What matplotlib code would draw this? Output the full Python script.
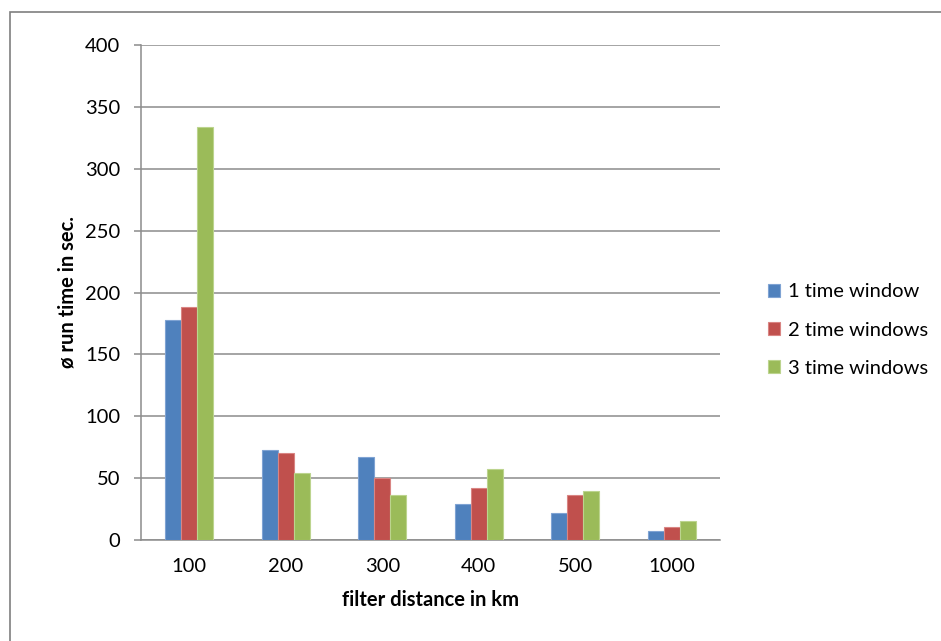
import numpy as np
import matplotlib.pyplot as plt
from matplotlib.patches import Rectangle

plt.rcParams['font.family'] = ['Lato', 'DejaVu Sans']

categories = ['100', '200', '300', '400', '500', '1000']
one_window = [178, 72.7, 67.3, 29.3, 22, 7.5]
two_windows = [188.2, 70.3, 50.3, 42.2, 36, 10.5]
three_windows = [333.5, 54.4, 36.3, 57.3, 39.8, 15.6]
series_names = ['1 time window', '2 time windows', '3 time windows']
colors = ['#4F81BD', '#C0504D', '#9BBB59']
edges = ['#7FA3D3', '#D98583', '#BCD48E']


def main():
    fig = plt.figure(figsize=(9.41, 6.41), dpi=100)
    ax = fig.add_axes([141 / 941, 1 - 540 / 641, (720 - 141) / 941, (540 - 45) / 641])

    ## outer chart border (runs off the right and bottom of the picture)
    fig.patches.append(Rectangle((10 / 941, -0.1), 1.2, 1 - 12 / 641 + 0.1,
                                 transform=fig.transFigure, fill=False,
                                 edgecolor='#7f7f7f', linewidth=1.2))

    x = np.arange(len(categories))
    w = 1 / 6
    for k, vals in enumerate([one_window, two_windows, three_windows]):
        ax.bar(x + (k - 1) * w, vals, w, color=colors[k], edgecolor=edges[k],
               linewidth=0.8, label=series_names[k], zorder=3)

    ax.set_xlim(-0.5, len(categories) - 0.5)
    ax.set_ylim(0, 400)
    ax.set_yticks(np.arange(0, 401, 50))
    ax.set_xticks(x)
    ax.set_xticklabels(categories)
    ax.yaxis.grid(True, color='#8c8c8c', linewidth=1.1, zorder=0)
    ax.set_axisbelow(True)

    for side in ['top', 'right']:
        ax.spines[side].set_visible(False)
    for side in ['left', 'bottom']:
        ax.spines[side].set_color('#8c8c8c')
        ax.spines[side].set_linewidth(1.1)

    ax.tick_params(axis='y', length=5, color='#8c8c8c', width=1.1, labelsize=14.5, pad=10)
    ax.tick_params(axis='x', length=0, labelsize=14.5, pad=13)

    ax.set_xlabel('filter distance in km', fontsize=14.5, fontweight='bold', labelpad=11)
    ax.set_ylabel('ø run time in sec.', fontsize=14.5, fontweight='bold', labelpad=5)

    fig.legend(loc='center left', bbox_to_anchor=(750 / 941, 1 - 330 / 641),
               frameon=False, fontsize=14.5, handlelength=0.6, handleheight=0.6,
               handletextpad=0.4, labelspacing=1.05)

    plt.savefig('out.png', dpi=100)
    plt.close()


if __name__ == "__main__":
    main()
